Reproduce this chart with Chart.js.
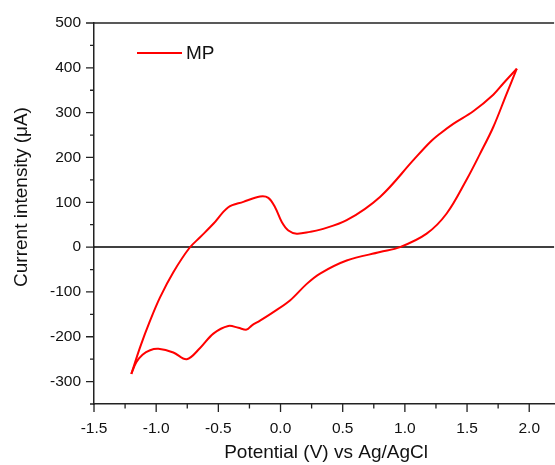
<!DOCTYPE html>
<html>
<head>
<meta charset="utf-8">
<script src="https://cdn.jsdelivr.net/npm/chart.js@4/dist/chart.umd.min.js"></script>
<style>
  html, body { margin: 0; padding: 0; background: #fff; }
</style>
</head>
<body>
<canvas id="cvChart" width="555" height="465"></canvas>
<script>
// forward scan (-1.2 V -> 1.9 V)
const potentialForward = [-1.2, -1.129, -1.049, -0.969, -0.862, -0.733, -0.647, -0.54, -0.42, -0.299, -0.165, -0.098, -0.044, 0.01, 0.063, 0.13, 0.237, 0.32, 0.532, 0.80, 1.068, 1.202, 1.282, 1.389, 1.55, 1.711, 1.791, 1.9];
const currentForward = [-283, -223, -164, -112, -56, -2, 22, 52, 89, 101, 113, 110, 89, 56, 37, 30, 34, 39, 60, 112, 194, 234, 253, 275, 303, 340, 365, 398];
// reverse scan (1.9 V -> -1.2 V)
const potentialReverse = [1.9, 1.818, 1.711, 1.604, 1.497, 1.336, 1.175, 0.961, 0.80, 0.532, 0.318, 0.211, 0.076, -0.058, -0.165, -0.232, -0.272, -0.339, -0.42, -0.54, -0.647, -0.754, -0.862, -0.982, -1.049, -1.11, -1.16, -1.2];
const currentReverse = [398, 342, 268, 208, 151, 75, 30, 0, -11, -30, -59, -82, -119, -145, -164, -175, -184, -180, -176, -193, -225, -250, -235, -227, -230, -240, -257, -283];

const xMajor = [-1.5, -1.0, -0.5, 0.0, 0.5, 1.0, 1.5, 2.0];
const xMinor = [-1.25, -0.75, -0.25, 0.25, 0.75, 1.25, 1.75];
const yMajor = [-300, -200, -100, 0, 100, 200, 300, 400, 500];
const yMinor = [-350, -250, -150, -50, 50, 150, 250, 350, 450];

const fontFamily = "'Liberation Sans', Arial, sans-serif";
const axisColor = '#222';
const lineRed = '#ff0000';

const toPoints = (xs, ys) => xs.map((v, i) => ({x: v, y: ys[i]}));

// zero line, axis ticks, top frame, titles and legend
const cvFrame = {
    id: 'cvFrame',
    beforeDatasetsDraw(chart) {
        const {ctx, chartArea: a, scales: {y}} = chart;
        const y0 = y.getPixelForValue(0);
        ctx.save();
        ctx.strokeStyle = '#000';
        ctx.lineWidth = 1.5;
        ctx.beginPath();
        ctx.moveTo(a.left, y0);
        ctx.lineTo(a.right, y0);
        ctx.stroke();
        ctx.restore();
    },
    afterDraw(chart) {
        const {ctx, chartArea: a, scales: {x, y}} = chart;
        ctx.save();
        ctx.strokeStyle = axisColor;
        ctx.lineWidth = 1.5;
        ctx.beginPath();
        ctx.moveTo(a.left - 0.75, a.top);
        ctx.lineTo(a.right, a.top);
        ctx.stroke();

        ctx.lineWidth = 1.3;
        ctx.beginPath();
        xMajor.forEach(v => {
            const px = x.getPixelForValue(v);
            ctx.moveTo(px, a.bottom); ctx.lineTo(px, a.bottom + 8);
        });
        xMinor.forEach(v => {
            const px = x.getPixelForValue(v);
            ctx.moveTo(px, a.bottom); ctx.lineTo(px, a.bottom + 4.5);
        });
        yMajor.forEach(v => {
            const py = y.getPixelForValue(v);
            ctx.moveTo(a.left, py); ctx.lineTo(a.left - 8, py);
        });
        yMinor.forEach(v => {
            const py = y.getPixelForValue(v);
            ctx.moveTo(a.left, py); ctx.lineTo(a.left - 4, py);
        });
        ctx.stroke();

        // axis titles
        ctx.fillStyle = '#111';
        ctx.font = '19px ' + fontFamily;
        ctx.textAlign = 'center';
        ctx.textBaseline = 'middle';
        ctx.fillText('Potential (V) vs Ag/AgCl', (a.left + a.right) / 2 + 2, 453);
        ctx.save();
        ctx.translate(22, 197);
        ctx.rotate(-Math.PI / 2);
        ctx.fillText('Current intensity (\u03bcA)', 0, 0);
        ctx.restore();

        // legend
        const ds = chart.data.datasets[0];
        const ly = a.top + 30;
        ctx.strokeStyle = ds.borderColor;
        ctx.lineWidth = 2;
        ctx.beginPath();
        ctx.moveTo(a.left + 43, ly);
        ctx.lineTo(a.left + 88, ly);
        ctx.stroke();
        ctx.fillStyle = '#111';
        ctx.textAlign = 'left';
        ctx.font = '19px ' + fontFamily;
        ctx.fillText(ds.label, a.left + 92, ly + 1);
        ctx.restore();
    }
};

const cvChart = new Chart(document.getElementById('cvChart'), {
    type: 'scatter',
    data: {
        datasets: [{
            label: 'MP',
            data: toPoints(potentialForward, currentForward),
            showLine: true,
            borderColor: lineRed,
            borderWidth: 2,
            pointRadius: 0,
            tension: 0.35,
            fill: false
        }, {
            label: 'MP reverse',
            data: toPoints(potentialReverse, currentReverse),
            showLine: true,
            borderColor: lineRed,
            borderWidth: 2,
            pointRadius: 0,
            tension: 0.35,
            fill: false
        }]
    },
    options: {
        responsive: false,
        animation: false,
        layout: {padding: {top: 23, right: 0, left: 0, bottom: 0}},
        plugins: {
            legend: {display: false},
            tooltip: {enabled: false}
        },
        scales: {
            x: {
                type: 'linear',
                min: -1.5,
                max: 2.2,
                afterBuildTicks: scale => { scale.ticks = xMajor.map(v => ({value: v})); },
                afterFit: scale => { scale.height = 61; },
                ticks: {
                    padding: 15,
                    color: '#111',
                    font: {family: fontFamily, size: 15.5},
                    callback: v => Number(v).toFixed(1)
                },
                grid: {display: true, drawOnChartArea: false, drawTicks: false},
                border: {display: true, color: axisColor, width: 1.5}
            },
            y: {
                type: 'linear',
                min: -350,
                max: 500,
                afterBuildTicks: scale => { scale.ticks = yMajor.map(v => ({value: v})); },
                afterFit: scale => { scale.width = 94; },
                ticks: {
                    padding: 13,
                    color: '#111',
                    font: {family: fontFamily, size: 15.5}
                },
                grid: {display: true, drawOnChartArea: false, drawTicks: false},
                border: {display: true, color: axisColor, width: 1.5}
            }
        }
    },
    plugins: [cvFrame]
});
</script>
</body>
</html>
